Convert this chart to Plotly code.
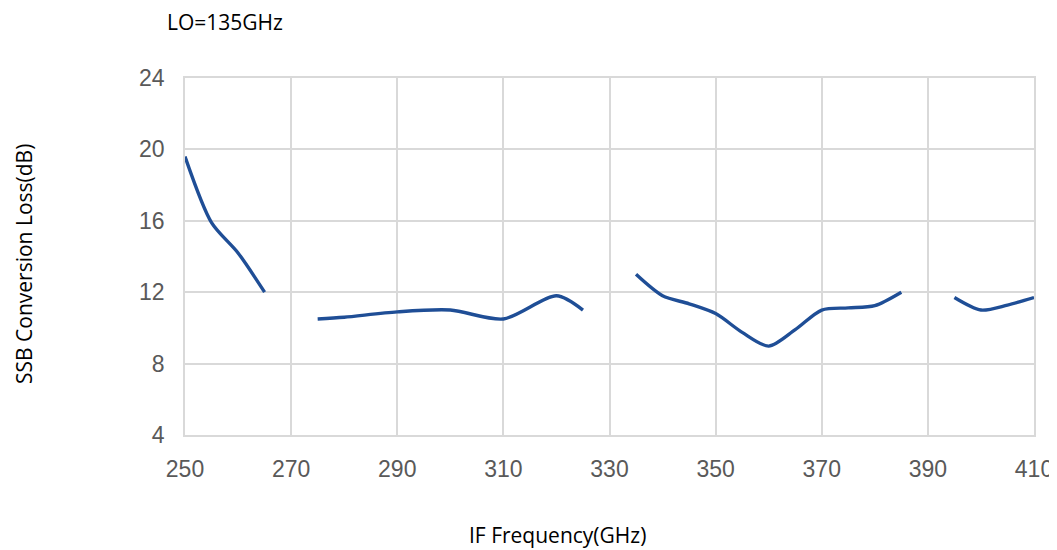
import plotly.graph_objects as go

freq = [250, 255, 260, 265, None,
        275, 280, 290, 300, 310, 320, 325, None,
        335, 340, 345, 350, 355, 360, 365, 370, 375, 380, 385, None,
        395, 400, 405, 410]
loss = [19.6, 15.9, 14.2, 12.0, None,
        10.5, 10.6, 10.9, 11.0, 10.5, 11.8, 11.0, None,
        13.0, 11.8, 11.35, 10.8, 9.75, 8.98, 9.9, 11.0, 11.12, 11.25, 12.0, None,
        11.7, 11.0, 11.28, 11.7]

x_ticks = [250, 270, 290, 310, 330, 350, 370, 390, 410]
y_ticks = [4, 8, 12, 16, 20, 24]

# page body has an 8px margin; lay out in page pixels minus that offset
OFF = 8
W, H = 1057 - OFF, 550 - OFF
L, R, T, B = 185 - OFF, 1034 - OFF, 78 - OFF, 435 - OFF

fig = go.Figure()
fig.add_trace(go.Scatter(
    x=freq, y=loss, mode="lines",
    line=dict(color="#1f4e96", width=3.4, shape="spline", smoothing=0.8),
    connectgaps=False, showlegend=False, hoverinfo="skip"))

grid = "#d9d9d9"
title_font = dict(family="Open Sans, Noto Sans, sans-serif", size=21, color="#000000")
fig.update_layout(
    width=W, height=H,
    margin=dict(l=L, r=W - R, t=T, b=H - B, autoexpand=False),
    paper_bgcolor="white", plot_bgcolor="white",
    font=dict(family="Liberation Sans, Arial, sans-serif", color="#595959", size=23),
    xaxis=dict(range=[250, 410], tickvals=x_ticks, showgrid=True, gridcolor=grid,
               gridwidth=1.5, zeroline=False, showline=True, linecolor=grid,
               linewidth=1.5, mirror=True, ticks="", ticklabelstandoff=13),
    yaxis=dict(range=[4, 24], tickvals=y_ticks, showgrid=True, gridcolor=grid,
               gridwidth=1.5, zeroline=False, showline=True, linecolor=grid,
               linewidth=1.5, mirror=True, ticks="", ticklabelstandoff=14),
    annotations=[
        dict(text="LO=135GHz", xref="paper", yref="paper",
             x=(165 - OFF - L) / (R - L), y=1.0,
             xanchor="left", yanchor="middle", yshift=T - (22 - OFF), showarrow=False,
             font=title_font),
        dict(text="IF Frequency(GHz)", xref="paper", yref="paper",
             x=(557 - OFF - L) / (R - L), y=0, yanchor="middle", xanchor="center",
             yshift=-(535 - OFF - B), showarrow=False, font=title_font),
        dict(text="SSB Conversion Loss(dB)", xref="paper", yref="paper",
             x=0, y=(B - (264 - OFF)) / (B - T), xanchor="center", yanchor="middle",
             xshift=-(L - (24 - OFF)), textangle=-90, showarrow=False, font=title_font),
    ],
)

fig.write_html("out.html")
